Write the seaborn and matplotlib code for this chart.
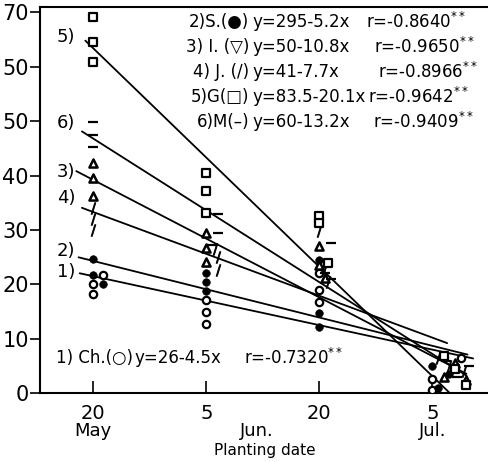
import numpy as np
import pandas as pd
import matplotlib
matplotlib.use("Agg")
import matplotlib.pyplot as plt
import seaborn as sns

# regression lines (y = a - b*x), x = planting date index
series = ["Ch", "S", "I", "J", "G", "M"]
intercepts = [26, 29.5, 50, 41, 83.5, 60]
slopes = [4.5, 5.2, 10.8, 7.7, 20.1, 13.2]
line_start = [0.88, 0.87, 0.85, 0.90, 0.93, 0.90]
line_end = [4.36, 4.31, 4.30, 4.13, 4.15, 4.30]

# observed points
ch_x = [1.09, 1.0, 1.0, 2.0, 2.0, 2.0, 3.0, 3.0, 3.0, 4.0, 4.0, 4.25]
ch_y = [21.7, 20.0, 18.2, 17.2, 14.9, 12.8, 22.0, 18.9, 16.7, 2.6, 0.6, 6.4]
s_x = [1.0, 1.0, 1.09, 2.0, 2.0, 2.0, 3.0, 3.0, 3.0, 4.0, 4.05, 4.15]
s_y = [24.6, 21.7, 20.0, 22.0, 20.4, 18.7, 24.4, 14.7, 12.1, 5.0, 1.0, 3.5]
i_x = [1.0, 1.0, 1.0, 2.0, 2.0, 2.0, 3.0, 3.0, 3.05, 4.1, 4.2, 4.3]
i_y = [42.3, 39.5, 36.2, 29.4, 26.6, 24.1, 27.0, 23.5, 21.2, 3.0, 5.5, 2.5]
j_x = [1.0, 1.0, 1.0, 2.08, 2.1, 2.1, 3.0, 3.05, 3.08, 4.05, 4.15, 4.28]
j_y = [34.0, 32.1, 30.0, 26.5, 25.0, 22.6, 29.8, 23.0, 20.5, 6.5, 5.0, 4.0]
g_x = [1.0, 1.0, 1.0, 2.0, 2.0, 2.0, 3.0, 3.0, 3.08, 4.1, 4.2, 4.3]
g_y = [69.2, 64.6, 60.8, 40.4, 37.1, 33.2, 32.5, 31.3, 24.0, 6.8, 4.5, 1.5]
m_x = [1.0, 1.0, 1.0, 2.1, 2.1, 2.05, 3.1, 3.05, 3.1, 4.12, 4.22, 4.32]
m_y = [49.9, 47.5, 45.3, 33.0, 29.5, 27.3, 27.6, 22.0, 21.0, 6.0, 3.0, 5.0]

date_pos = [1, 2, 3, 4]
date_days = ["20", "5", "20", "5"]
months = ["May", "Jun.", "Jul."]
month_pos = [1.0, 2.45, 4.0]
ytick_vals = [0, 10, 20, 30, 40, 50, 60, 70]
ytick_text = ["0", "10", "20", "30", "40", "50", "50", "70"]

legend_rows = [
    ("2)S.(\u25cf)", "y=295-5.2x", "r=-0.8640$^{**}$"),
    ("3) I. (\u25bd)", "y=50-10.8x", "r=-0.9650$^{**}$"),
    ("4) J. (/)", "y=41-7.7x", "r=-0.8966$^{**}$"),
    ("5)G(\u25a1)", "y=83.5-20.1x", "r=-0.9642$^{**}$"),
    ("6)M(\u2013)", "y=60-13.2x", "r=-0.9409$^{**}$"),
]
line_tags = ["1)", "2)", "3)", "4)", "5)", "6)"]
tag_y = [22.3, 26.2, 40.7, 35.9, 65.4, 49.7]

sns.set_style("ticks")
plt.rcParams["font.family"] = ["DejaVu Sans"]
for k in ["text.color", "axes.labelcolor", "xtick.color", "ytick.color", "axes.edgecolor"]:
    plt.rcParams[k] = "black"

fig = plt.figure(figsize=(4.89, 4.62), dpi=100)
ax = fig.add_axes([0.082, 0.149, 0.918, 0.836])

# regression lines
for a, b, x0, x1 in zip(intercepts, slopes, line_start, line_end):
    xs = np.array([x0, x1])
    sns.lineplot(x=xs, y=a - b * xs, ax=ax, color="black", lw=1.3)

pts = pd.DataFrame({
    "x": ch_x + s_x + i_x + j_x + g_x + m_x,
    "y": ch_y + s_y + i_y + j_y + g_y + m_y,
    "series": sum([[s] * 12 for s in series], []),
})
styles = {
    "Ch": dict(marker="o", facecolor="white", edgecolor="black", s=28, linewidth=1.6),
    "S": dict(marker="o", color="black", edgecolor="black", s=30),
    "I": dict(marker="^", facecolor="white", edgecolor="black", s=34, linewidth=1.8),
    "J": dict(marker="$/$", color="black", edgecolor="black", linewidth=0.6, s=70),
    "G": dict(marker="s", facecolor="white", edgecolor="black", s=30, linewidth=1.6),
    "M": dict(marker="_", color="black", s=50, linewidth=1.6),
}
for name in series:
    sub = pts[pts["series"] == name]
    sns.scatterplot(data=sub, x="x", y="y", ax=ax, zorder=3, **styles[name])

ax.set_xlim(0.53, 4.5)
ax.set_ylim(0, 71)
ax.set_xticks(date_pos)
ax.set_xticklabels(date_days, fontsize=14)
ax.set_yticks(ytick_vals)
ax.set_yticklabels(ytick_text, fontsize=15)
ax.tick_params(axis="x", direction="in", length=9, width=1.2, pad=8)
ax.tick_params(axis="y", direction="out", length=7, width=1.2, pad=1)
for sp in ["left", "bottom", "top"]:
    ax.spines[sp].set_linewidth(1.5)
ax.spines["right"].set_visible(False)
ax.set_xlabel("Planting date", fontsize=11, labelpad=14)
ax.set_ylabel("")

for m, xp in zip(months, month_pos):
    ax.text(xp, -6.9, m, ha="center", va="center", fontsize=13,
            transform=ax.transData, clip_on=False)

for t, yv in zip(line_tags, tag_y):
    ax.text(0.76, yv, t, ha="center", va="center", fontsize=13)

# equations at upper right
row_y = [68.3, 63.7, 59.1, 54.5, 49.9]
r_x = [3.41, 3.48, 3.52, 3.43, 3.47]
for (lab, eq, rr), yv, rx in zip(legend_rows, row_y, r_x):
    ax.text(2.38, yv, lab, ha="right", va="center", fontsize=12)
    ax.text(2.41, yv, eq, ha="left", va="center", fontsize=12)
    ax.text(rx, yv, rr, ha="left", va="center", fontsize=12)

ax.text(0.67, 6.5, "1) Ch.(\u25cb)", ha="left", va="center", fontsize=12)
ax.text(1.36, 6.5, "y=26-4.5x", ha="left", va="center", fontsize=12)
ax.text(2.33, 6.5, "r=-0.7320$^{**}$", ha="left", va="center", fontsize=12)

fig.savefig("out.png", dpi=100)
